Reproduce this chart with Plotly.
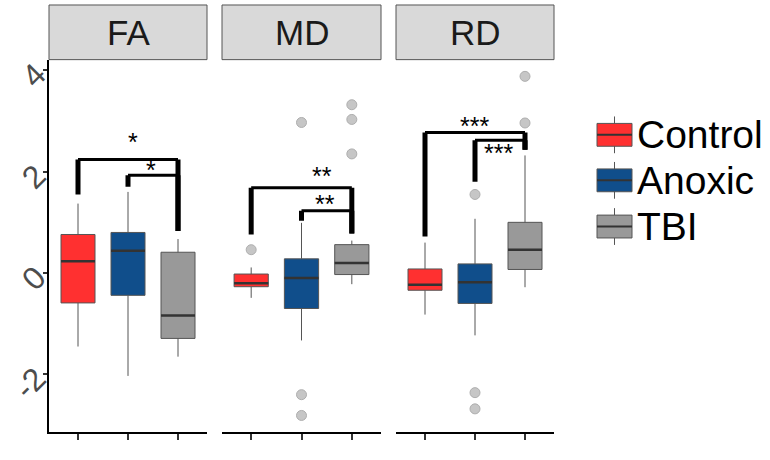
import plotly.graph_objects as go

# ---------------- data ----------------
groups = ["Control", "Anoxic", "TBI"]
metrics = ["FA", "MD", "RD"]
positions = [1, 2, 3]

fa_low = [-1.45, -2.03, -1.65]
fa_q1 = [-0.59, -0.44, -1.29]
fa_med = [0.23, 0.44, -0.84]
fa_q3 = [0.76, 0.80, 0.41]
fa_high = [1.37, 1.60, 0.67]
fa_out = [[], [], []]

md_low = [-0.49, -1.33, -0.22]
md_q1 = [-0.27, -0.70, -0.03]
md_med = [-0.20, -0.10, 0.20]
md_q3 = [-0.02, 0.28, 0.56]
md_high = [0.11, 0.99, 0.64]
md_out = [[0.46], [2.97, -2.40, -2.81], [3.32, 3.03, 2.35]]

rd_low = [-0.82, -1.23, -0.28]
rd_q1 = [-0.34, -0.60, 0.07]
rd_med = [-0.23, -0.18, 0.46]
rd_q3 = [0.08, 0.18, 1.00]
rd_high = [0.60, 1.07, 2.32]
rd_out = [[], [1.55, -2.36, -2.68], [3.88, 2.96]]

# significance brackets (pairs of group positions)
fa_pairs = [(1, 3), (2, 3)]
fa_bar_y = [2.24, 1.93]
fa_tip_left = [1.55, 1.70]
fa_tip_right = [0.83, 0.83]
fa_label = ["*", "*"]
fa_label_x = [2.1, 2.45]
fa_label_y = [2.62, 2.08]

md_pairs = [(1, 3), (2, 3)]
md_bar_y = [1.68, 1.23]
md_tip_left = [0.76, 1.03]
md_tip_right = [0.78, 0.78]
md_label = ["**", "**"]
md_label_x = [2.4, 2.46]
md_label_y = [1.95, 1.41]

rd_pairs = [(1, 3), (2, 3)]
rd_bar_y = [2.77, 2.62]
rd_tip_left = [0.72, 1.80]
rd_tip_right = [2.43, 2.43]
rd_label = ["***", "***"]
rd_label_x = [2.0, 2.48]
rd_label_y = [2.94, 2.40]

y_tickvals = [-2, 0, 2, 4]
y_ticktext = ["-2", "0", "2", "4"]

# ---------------- style ----------------
colors = ["#FF3030", "#104E8B", "#999999"]
W, H = 770, 460
panel_px = [(49, 207), (222, 381), (396, 554)]
plot_top, plot_bottom = 57, 432
strip_h = 55
box_w = 0.68
y_range = [-3.14, 4.21]
font_family = "Liberation Sans, Arial, sans-serif"

stats = {
    "FA": (fa_low, fa_q1, fa_med, fa_q3, fa_high, fa_out),
    "MD": (md_low, md_q1, md_med, md_q3, md_high, md_out),
    "RD": (rd_low, rd_q1, rd_med, rd_q3, rd_high, rd_out),
}
sig = {
    "FA": (fa_pairs, fa_bar_y, fa_tip_left, fa_tip_right, fa_label, fa_label_x, fa_label_y),
    "MD": (md_pairs, md_bar_y, md_tip_left, md_tip_right, md_label, md_label_x, md_label_y),
    "RD": (rd_pairs, rd_bar_y, rd_tip_left, rd_tip_right, rd_label, rd_label_x, rd_label_y),
}

fig = go.Figure()
shapes = []
annotations = []

for k, m in enumerate(metrics):
    sfx = "" if k == 0 else str(k + 1)
    xa, ya = "x" + sfx, "y" + sfx
    low, q1, med, q3, high, out = stats[m]
    for g in range(3):
        p = positions[g]
        fig.add_trace(go.Box(
            x=[p], q1=[q1[g]], median=[med[g]], q3=[q3[g]],
            lowerfence=[low[g]], upperfence=[high[g]],
            width=box_w, fillcolor=colors[g],
            line=dict(color="#555555", width=1), whiskerwidth=0,
            boxpoints=False, showlegend=False, hoverinfo="skip",
            xaxis=xa, yaxis=ya, name=groups[g]))
        fig.add_trace(go.Scatter(
            x=[p - box_w / 2, p + box_w / 2], y=[med[g], med[g]],
            mode="lines", line=dict(color="#333333", width=2.5),
            showlegend=False, hoverinfo="skip", xaxis=xa, yaxis=ya))
        if out[g]:
            fig.add_trace(go.Scatter(
                x=[p] * len(out[g]), y=out[g], mode="markers",
                marker=dict(size=10, color="#C6C6C6",
                            line=dict(color="#AEAEAE", width=1)),
                showlegend=False, hoverinfo="skip", xaxis=xa, yaxis=ya))
    # significance brackets
    pairs, bar_y, tl, tr, lab, lx, ly = sig[m]
    for i, (a, b) in enumerate(pairs):
        shapes.append(dict(type="line", xref=xa, yref=ya, x0=a, x1=b,
                           y0=bar_y[i], y1=bar_y[i],
                           line=dict(color="black", width=3)))
        shapes.append(dict(type="line", xref=xa, yref=ya, x0=a, x1=a,
                           y0=bar_y[i], y1=tl[i],
                           line=dict(color="black", width=5)))
        shapes.append(dict(type="line", xref=xa, yref=ya, x0=b, x1=b,
                           y0=bar_y[i], y1=tr[i],
                           line=dict(color="black", width=5)))
        annotations.append(dict(xref=xa, yref=ya, x=lx[i], y=ly[i],
                                text=lab[i], showarrow=False,
                                yanchor="middle", yshift=-2,
                                font=dict(size=25, color="black",
                                          family=font_family)))
    # strip header
    dom_x = xa + " domain"
    dom_y = ya + " domain"
    shapes.append(dict(type="rect", xref=dom_x, yref=dom_y, x0=0, x1=1,
                       y0=1, y1=1 + strip_h / (plot_bottom - plot_top),
                       fillcolor="#D9D9D9", line=dict(color="#555555", width=1),
                       layer="above"))
    annotations.append(dict(xref=dom_x, yref=dom_y, x=0.5,
                            y=1 + strip_h / 2 / (plot_bottom - plot_top),
                            text=m, showarrow=False, yanchor="middle",
                            font=dict(size=35, color="#1A1A1A",
                                      family=font_family)))

layout = dict(
    width=W, height=H, margin=dict(l=0, r=0, t=0, b=0),
    paper_bgcolor="white", plot_bgcolor="white", showlegend=False,
    font=dict(family=font_family),
)
ydom = [1 - plot_bottom / H, 1 - plot_top / H]
for k in range(3):
    sfx = "" if k == 0 else str(k + 1)
    x0, x1 = panel_px[k]
    layout["xaxis" + sfx] = dict(
        domain=[x0 / W, x1 / W], range=[0.42, 3.58], anchor="y" + sfx,
        tickvals=positions, ticktext=["", "", ""], ticks="outside",
        ticklen=6, tickwidth=2, tickcolor="#333333",
        showline=True, linecolor="black", linewidth=2,
        showgrid=False, zeroline=False, fixedrange=True)
    yax = dict(domain=ydom, range=y_range, anchor="x" + sfx,
               showgrid=False, zeroline=False, fixedrange=True)
    if k == 0:
        yax.update(tickvals=y_tickvals, ticktext=y_ticktext, tickangle=-45,
                   ticks="outside", ticklen=4, tickwidth=2, tickcolor="#333333",
                   showline=True, linecolor="black", linewidth=2,
                   tickfont=dict(size=32, color="#4D4D4D", family=font_family))
    else:
        yax.update(matches="y", showticklabels=False, showline=False, ticks="")
    layout["yaxis" + sfx] = yax

# custom legend (key glyphs + real text)
leg_x0, leg_x1 = 597, 632
leg_yc = [132.7, 178.5, 225]
leg_half = 11.5
leg_whisk = 18.5
for g in range(3):
    yc = leg_yc[g]
    xm = (leg_x0 + leg_x1) / 2
    shapes.append(dict(type="line", xref="paper", yref="paper",
                       x0=xm / W, x1=xm / W,
                       y0=1 - (yc - leg_whisk) / H, y1=1 - (yc + leg_whisk) / H,
                       line=dict(color="#555555", width=1)))
    shapes.append(dict(type="rect", xref="paper", yref="paper",
                       x0=leg_x0 / W, x1=leg_x1 / W,
                       y0=1 - (yc - leg_half) / H, y1=1 - (yc + leg_half) / H,
                       fillcolor=colors[g], line=dict(color="#555555", width=1)))
    shapes.append(dict(type="line", xref="paper", yref="paper",
                       x0=leg_x0 / W, x1=leg_x1 / W,
                       y0=1 - yc / H, y1=1 - yc / H,
                       line=dict(color="#333333", width=2)))
    annotations.append(dict(xref="paper", yref="paper", x=(leg_x1 + 3) / W,
                            y=1 - yc / H, xanchor="left", yanchor="middle",
                            text=groups[g], showarrow=False,
                            font=dict(size=39, color="black", family=font_family)))

layout["shapes"] = shapes
layout["annotations"] = annotations
fig.update_layout(**layout)
fig.write_html("out.html",
               config={"displayModeBar": False, "staticPlot": True},
               post_script="document.body.style.margin='0px';document.body.style.overflow='hidden';")
